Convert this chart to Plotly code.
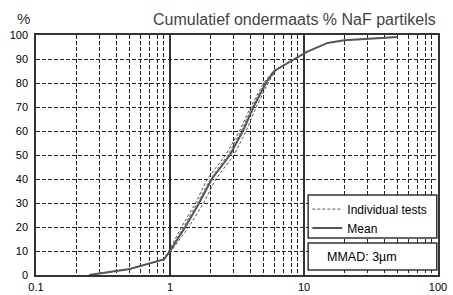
import plotly.graph_objects as go

# Mean cumulative undersize curve (particle size µm, % undersize)
mean_x = [0.25, 0.5, 0.9, 1.0, 1.3, 1.65, 2.05, 2.8, 3.5, 4.2, 5.2, 6.0, 8.5, 10.5, 15, 20, 50]
mean_y = [0, 2.5, 6.5, 10, 20, 30, 40, 50, 60, 70, 80, 85, 90, 93, 96.7, 97.8, 99.2]

# Individual tests
test1_x = [0.25, 0.5, 0.9, 0.98, 1.22, 1.55, 1.9, 2.6, 3.3, 4.0, 5.0, 5.9, 8.5, 10.5]
test1_y = [0, 2.5, 6.5, 10, 20, 30, 40, 50, 60, 70, 80, 85, 90, 93]
test2_x = [0.25, 0.5, 0.9, 1.02, 1.38, 1.78, 2.2, 3.0, 3.7, 4.4, 5.4, 6.1, 8.5, 10.5]
test2_y = [0, 2.5, 6.5, 10, 20, 30, 40, 50, 60, 70, 80, 85, 90, 93]
test3_x = [0.9, 1.0, 1.26, 1.6, 2.0, 2.7, 3.4, 4.1, 5.1, 6.0]
test3_y = [6.5, 10, 20, 30, 40, 50, 60, 70, 80, 85]

x_tickvals = [0.1, 1, 10, 100]
x_ticktext = ["0.1", "1", "10", "100"]
y_tickvals = list(range(0, 101, 10))

fig = go.Figure()
dash_style = "3px,2px"
fig.add_trace(go.Scatter(x=test1_x, y=test1_y, mode="lines", name="Individual tests",
                         line=dict(color="#555555", width=1, dash=dash_style), legendgroup="ind"))
fig.add_trace(go.Scatter(x=test2_x, y=test2_y, mode="lines", name="Individual tests",
                         line=dict(color="#555555", width=1, dash=dash_style), legendgroup="ind",
                         showlegend=False))
fig.add_trace(go.Scatter(x=test3_x, y=test3_y, mode="lines", name="Individual tests",
                         line=dict(color="#777777", width=1, dash=dash_style), legendgroup="ind",
                         showlegend=False))
fig.add_trace(go.Scatter(x=mean_x, y=mean_y, mode="lines", name="Mean",
                         line=dict(color="#555555", width=2)))

font_family = "Liberation Sans, Arial, sans-serif"
fig.update_layout(
    width=453, height=295,
    margin=dict(l=36, r=15, t=35, b=20),
    paper_bgcolor="white", plot_bgcolor="white",
    font=dict(family=font_family, size=11, color="black"),
    xaxis=dict(type="log", range=[-1, 2], tickvals=x_tickvals, ticktext=x_ticktext,
               showgrid=True, gridcolor="#333333", gridwidth=1.5, automargin=False,
               minor=dict(showgrid=True, gridcolor="#222222", gridwidth=1, griddash="4px,2px",
                          ticks="", dtick="D1"),
               showline=True, linecolor="#333333", linewidth=1.5, mirror=True,
               ticks="", zeroline=False, ticklabelstandoff=1),
    yaxis=dict(range=[0, 100], tickvals=y_tickvals, showgrid=True, gridcolor="#222222",
               gridwidth=1, griddash="4px,2px", automargin=False,
               showline=True, linecolor="#333333", linewidth=1.5, mirror=True,
               ticks="", zeroline=False, ticklabelstandoff=4),
    showlegend=True,
    legend=dict(x=0.675, y=0.335, xanchor="left", yanchor="top", bgcolor="rgba(0,0,0,0)",
                borderwidth=0, font=dict(size=12), tracegroupgap=0, itemwidth=30),
    shapes=[
        dict(type="rect", xref="paper", yref="paper", x0=0.677, x1=0.997, y0=0.154, y1=0.333,
             line=dict(color="#333333", width=1.5), fillcolor="white", layer="above"),
        dict(type="rect", xref="paper", yref="paper", x0=0.677, x1=0.997, y0=0.021, y1=0.133,
             line=dict(color="#333333", width=1.5), fillcolor="white", layer="above"),
    ],
    annotations=[
        dict(text="MMAD: 3µm", xref="paper", yref="paper", x=0.81, y=0.077,
             xanchor="center", yanchor="middle", showarrow=False, font=dict(size=12.5)),
        dict(text="Cumulatief ondermaats % NaF partikels", xref="paper", yref="paper",
             x=1.0, y=1.0, yshift=5, xanchor="right", yanchor="bottom", showarrow=False,
             font=dict(size=16, color="#444444")),
        dict(text="%", xref="paper", yref="paper", x=-0.03, y=1.0, yshift=6,
             xanchor="center", yanchor="bottom", showarrow=False,
             font=dict(size=15, color="#333333")),
    ],
)

fig.write_html("out.html", config={"displayModeBar": False},
               post_script="document.body.style.margin='0';document.body.style.padding='0';")
